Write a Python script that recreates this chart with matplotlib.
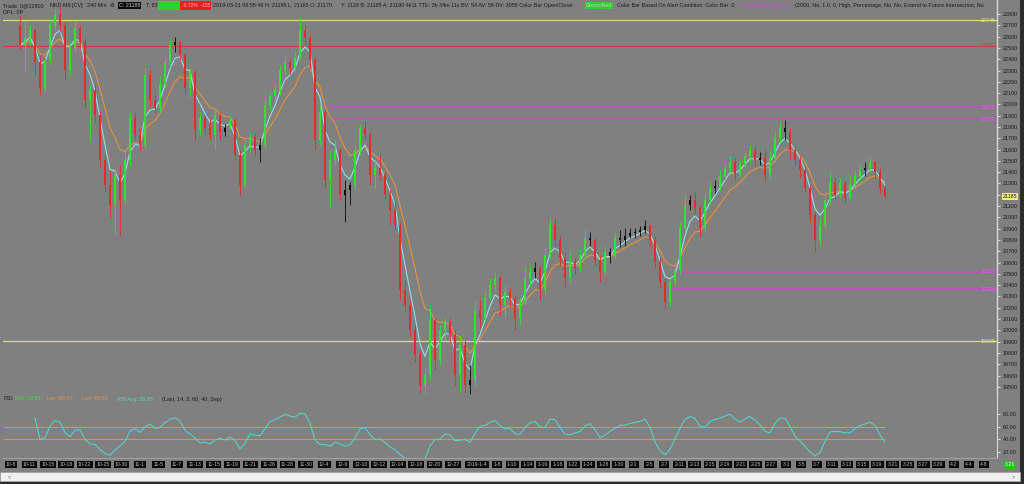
import numpy as np
import pandas as pd
import matplotlib
matplotlib.use("Agg")
import matplotlib.pyplot as plt
from matplotlib.patches import Rectangle
from matplotlib.transforms import blended_transform_factory

plt.rcParams["font.family"] = ["Liberation Sans", "DejaVu Sans"]

# ---- 240 min bars ----
opens = [
    22705, 22525, 22590, 22660, 22375, 22145, 22395, 22705, 22790, 22705,
    22305, 22500, 22675, 22550, 22040, 22130, 21905, 21510, 21285, 21110,
    21375, 21155, 21510, 21880, 21730, 21640, 22260, 22040, 21970, 22170,
    22375, 22525, 22550, 22435, 22145, 22285, 21775, 21880, 21790, 21730,
    21905, 21755, 21790, 21860, 21550, 21285, 21640, 21710, 21595, 21640,
    21995, 22075, 22130, 22305, 22375, 22320, 22410, 22660, 22590, 22395,
    21685, 21935, 21330, 21510, 21595, 21200, 21245, 21285, 21595, 21790,
    21730, 21375, 21435, 21375, 21200, 21065, 20935, 20360, 20225, 20005,
    19780, 19515, 19605, 20090, 19740, 20005, 20075, 19960, 19605, 19870,
    19515, 19560, 20180, 20110, 20285, 20400, 20465, 20225, 20340, 20285,
    20110, 20250, 20465, 20515, 20550, 20360, 20665, 20935, 20800, 20640,
    20465, 20605, 20550, 20665, 20820, 20800, 20625, 20515, 20695, 20660,
    20820, 20800, 20835, 20860, 20870, 20890, 20925, 20800, 20605, 20430,
    20250, 20430, 20535, 20905, 21110, 21155, 21085, 20905, 21155, 21260,
    21280, 21365, 21435, 21490, 21385, 21465, 21545, 21595, 21510, 21525,
    21375, 21525, 21705, 21790, 21755, 21595, 21510, 21420, 21260, 21020,
    20800, 20935, 21155, 21315, 21200, 21305, 21170, 21295, 21365, 21420,
    21435, 21490, 21400, 21260,
]
closes = [
    22525, 22590, 22660, 22375, 22145, 22395, 22705, 22790, 22705, 22305,
    22500, 22675, 22550, 22040, 22130, 21905, 21510, 21285, 21110, 21375,
    21155, 21510, 21880, 21730, 21640, 22260, 22040, 21970, 22170, 22375,
    22525, 22550, 22435, 22145, 22285, 21775, 21880, 21790, 21730, 21905,
    21755, 21790, 21860, 21550, 21285, 21640, 21710, 21595, 21640, 21995,
    22075, 22130, 22305, 22375, 22320, 22410, 22660, 22590, 22395, 21685,
    21935, 21330, 21510, 21595, 21200, 21245, 21285, 21595, 21790, 21730,
    21375, 21435, 21375, 21200, 21065, 20935, 20360, 20225, 20005, 19780,
    19515, 19605, 20090, 19740, 20005, 20075, 19960, 19605, 19870, 19515,
    19560, 20180, 20110, 20285, 20400, 20465, 20225, 20340, 20285, 20110,
    20250, 20465, 20515, 20550, 20360, 20665, 20935, 20800, 20640, 20465,
    20605, 20550, 20665, 20820, 20800, 20625, 20515, 20695, 20660, 20820,
    20800, 20835, 20860, 20870, 20890, 20925, 20800, 20605, 20430, 20250,
    20430, 20535, 20905, 21110, 21155, 21085, 20905, 21155, 21260, 21280,
    21365, 21435, 21490, 21385, 21465, 21545, 21595, 21510, 21525, 21375,
    21525, 21705, 21790, 21755, 21595, 21510, 21420, 21260, 21020, 20800,
    20935, 21155, 21315, 21200, 21305, 21170, 21295, 21365, 21420, 21435,
    21490, 21400, 21260, 21185,
]
highs = [
    22790, 22730, 22705, 22675, 22435, 22435, 22765, 22855, 22860, 22730,
    22550, 22730, 22705, 22590, 22170, 22170, 21935, 21550, 21400, 21435,
    21465, 21595, 21935, 21935, 21790, 22320, 22305, 22085, 22250, 22430,
    22570, 22595, 22570, 22465, 22320, 22305, 21935, 21905, 21870, 21950,
    21935, 21825, 21905, 21880, 21595, 21705, 21755, 21745, 21705, 22055,
    22110, 22170, 22350, 22435, 22410, 22465, 22775, 22705, 22615, 22410,
    21985, 21950, 21595, 21685, 21615, 21330, 21315, 21640, 21825, 21855,
    21755, 21510, 21550, 21400, 21245, 21155, 20960, 20445, 20270, 20050,
    19825, 19665, 20225, 20110, 20050, 20110, 20110, 20005, 19960, 19915,
    19695, 20250, 20270, 20340, 20465, 20515, 20490, 20395, 20375, 20315,
    20285, 20550, 20570, 20605, 20580, 20730, 20995, 20995, 20835, 20695,
    20695, 20640, 20710, 20890, 20870, 20820, 20665, 20745, 20730, 20870,
    20890, 20905, 20905, 20905, 20925, 20975, 20940, 20835, 20640, 20465,
    20465, 20580, 20960, 21190, 21200, 21225, 21110, 21225, 21315, 21330,
    21420, 21490, 21545, 21525, 21510, 21580, 21640, 21630, 21580, 21595,
    21595, 21755, 21845, 21860, 21790, 21640, 21550, 21455, 21285, 21045,
    20995, 21225, 21400, 21350, 21350, 21330, 21365, 21420, 21465, 21490,
    21535, 21510, 21435, 21285,
]
lows = [
    22480, 22285, 22525, 22260, 22085, 22110, 22350, 22660, 22640, 22215,
    22260, 22465, 22500, 21970, 21685, 21835, 21445, 21225, 20995, 20860,
    20845, 21110, 21465, 21685, 21595, 21615, 21975, 21925, 21935, 22145,
    22330, 22465, 22395, 22100, 22065, 21685, 21730, 21740, 21685, 21595,
    21685, 21720, 21775, 21510, 21200, 21260, 21580, 21550, 21490, 21615,
    21950, 22020, 22085, 22260, 22270, 22285, 22395, 22525, 22320, 21595,
    21640, 21260, 21090, 21465, 21155, 20960, 21110, 21245, 21550, 21685,
    21285, 21260, 21330, 21155, 20935, 20890, 20270, 20165, 19950, 19720,
    19445, 19445, 19560, 19650, 19695, 19915, 19895, 19515, 19455, 19445,
    19435, 19515, 20020, 20075, 20270, 20360, 20135, 20120, 20205, 20005,
    20050, 20225, 20400, 20465, 20270, 20315, 20640, 20730, 20580, 20375,
    20430, 20500, 20515, 20640, 20745, 20580, 20430, 20490, 20595, 20640,
    20740, 20745, 20820, 20820, 20835, 20860, 20740, 20550, 20375, 20200,
    20215, 20400, 20500, 20870, 21065, 21030, 20825, 20870, 21120, 21215,
    21245, 21330, 21400, 21330, 21350, 21435, 21490, 21455, 21465, 21315,
    21350, 21490, 21665, 21685, 21510, 21455, 21350, 21225, 20960, 20695,
    20755, 20905, 21110, 21155, 21170, 21130, 21155, 21260, 21330, 21365,
    21400, 21350, 21215, 21165,
]

# horizontal levels
yellow_levels = [22745, 19905]
red_level = 22517
magenta_levels = [21975, 21870, 20517, 20365]
magenta_start = [62, 62, 131, 130]
price_ticks = list(range(19500, 22801, 100))
last_price = 21185

date_labels_a = ["10-8", "10-11", "10-15", "10-18", "10-22", "10-25", "10-30", "11-1",
                 "11-5", "11-7", "11-13", "11-15", "11-19", "11-21", "11-26", "11-28",
                 "11-30", "12-4", "12-6", "12-10", "12-12", "12-14", "12-18", "12-20",
                 "12-27"]
date_label_new_year = "2019-1-4"
date_labels_b = ["1-8", "1-10", "1-14", "1-16", "1-18", "1-22", "1-24", "1-28", "1-30",
                 "2-1", "2-5", "2-7", "2-11", "2-13", "2-15", "2-19", "2-21", "2-25",
                 "2-27", "3-1", "3-5", "3-7", "3-11", "3-13", "3-15", "3-19", "3-21",
                 "3-25", "3-27", "3-29", "4-2", "4-4", "4-8"]

# ---- derived indicators ----
s = pd.Series(closes, dtype=float)
ema_fast = s.ewm(span=4, adjust=False).mean()
ema_slow = s.ewm(span=9, adjust=False).mean()
delta = s.diff()
gain = delta.clip(lower=0).ewm(alpha=1 / 5, adjust=False).mean()
loss = (-delta.clip(upper=0)).ewm(alpha=1 / 5, adjust=False).mean()
rsi = 100 - 100 / (1 + gain / loss)
rsi_avg = rsi.rolling(2, min_periods=1).mean()

n = len(closes)
idx = np.arange(n)
o = np.array(opens, float)
c = np.array(closes, float)
h = np.array(highs, float)
l = np.array(lows, float)

GRAY = "#808080"
W, H = 1024, 484


def fr(x0, y0, x1, y1):
    # pixel box (top-left origin) -> figure fraction rect
    return [x0 / W, 1 - y1 / H, (x1 - x0) / W, (y1 - y0) / H]


def fig_rect(x0, y0, x1, y1, z=-5, **kw):
    r = fr(x0, y0, x1, y1)
    fig.patches.append(Rectangle((r[0], r[1]), r[2], r[3], transform=fig.transFigure,
                                 zorder=z, **kw))


fig = plt.figure(figsize=(W / 100, H / 100), dpi=100, facecolor="#2c2c2c")
fig_rect(0, 0, 1020, 472, fc=GRAY, ec="none")
fig_rect(0, 472, 1020, 481, fc="#f0f0f0", ec="#b0b0b0", lw=0.5)
fig.text(8 / W, 1 - 476.5 / H, "<", fontsize=4, color="#606060", va="center")
fig.text(1012 / W, 1 - 476.5 / H, ">", fontsize=4, color="#606060", va="center")

XL = (-3.4, 195.4)

# ---- price panel ----
ax = fig.add_axes(fr(3, 0, 997, 395), facecolor=GRAY)
ax.set_xlim(*XL)
ax.set_ylim(19428, 22924)

for lv in yellow_levels:
    ax.axhline(lv, color="#dcdc78", lw=0.9, zorder=1)
ax.axhline(red_level, color="#d23c3c", lw=0.8, zorder=1)
for lv, st in zip(magenta_levels, magenta_start):
    ax.hlines(lv, st, XL[1], color="#c848cc", lw=1.1, zorder=1)

ax.plot(idx, ema_slow, color="#e8913a", lw=0.8, zorder=2)
ax.plot(idx, ema_fast, color="#8fe0ec", lw=0.8, zorder=3)

body = np.abs(c - o)
cols = np.where(body < 50, "#0c0c0c", np.where(c > o, "#2ee62e", "#e62a2a"))
ax.vlines(idx, l, h, colors=cols, lw=0.6, zorder=4)
ax.bar(idx, np.maximum(body, 10), bottom=np.minimum(o, c), width=0.55,
       color=cols, lw=0, zorder=5)

tr = blended_transform_factory(ax.transAxes, ax.transData)
lab = [(yellow_levels[0], "22745", "#e6e67c"), (red_level, "22517", "#e03a3a"),
       (magenta_levels[0], "21975", "#e060e8"), (magenta_levels[1], "21870", "#e060e8"),
       (magenta_levels[2], "20517", "#e060e8"), (magenta_levels[3], "20365", "#e060e8"),
       (yellow_levels[1], "19905", "#e6e67c")]
for v, t, col in lab:
    ax.text(0.999, v, t, transform=tr, ha="right", va="center", fontsize=3.9,
            color=col, zorder=6)

ax.yaxis.tick_right()
ax.set_yticks(price_ticks)
ax.set_yticklabels([str(p) for p in price_ticks])
ax.tick_params(axis="y", labelsize=3.9, length=2, pad=2, colors="#d8d8d8",
               labelcolor="#1c1c1c")
ax.set_xticks([])
for sp in ["top", "left", "bottom"]:
    ax.spines[sp].set_visible(False)
ax.spines["right"].set_color("#d8d8d8")
ax.spines["right"].set_linewidth(1.0)
ax.text(1.006, last_price, str(last_price), transform=tr, ha="left", va="center",
        fontsize=3.9, color="#111111", zorder=7, clip_on=False,
        bbox=dict(fc="#f2f27a", ec="none", pad=0.6))

# ---- RSI panel ----
rx = fig.add_axes(fr(3, 395, 997, 458), facecolor=GRAY)
rx.set_xlim(*XL)
rx.set_ylim(10.4, 111)
rx.hlines([60, 40], XL[0], n - 1, color="#e8913a", lw=0.8)
rx.plot(idx[3:], rsi_avg[3:], color="#56d2c8", lw=0.8)
rx.yaxis.tick_right()
rx.set_yticks([80, 60, 40, 20])
rx.set_yticklabels(["80.00", "60.00", "40.00", "20.00"])
rx.tick_params(axis="y", labelsize=3.9, length=2, pad=2, colors="#d8d8d8",
               labelcolor="#1c1c1c")
rx.set_xticks([])
for sp in ["top", "left"]:
    rx.spines[sp].set_visible(False)
rx.spines["right"].set_color("#d8d8d8")
rx.spines["bottom"].set_color("#a8a8a8")
rx.spines["bottom"].set_linewidth(0.6)

ry = 1 - 399 / H
for x0, t, col in [(4, "RSI:", "#1c1c1c"), (15, "RSI: 29.95", "#3cdc3c"),
                   (47, "Lev: 60.00", "#e8913a"), (82, "Lev: 40.00", "#e8913a"),
                   (117, "RSI Avg: 29.95", "#56d2c8"),
                   (162, "(Last, 14, 3, 60, 40, Sep)", "#1c1c1c")]:
    fig.text(x0 / W, ry, t, fontsize=3.9, color=col, va="center")

# ---- date strip ----
dx = fig.add_axes(fr(3, 458, 997, 472), facecolor=GRAY)
dx.set_xlim(*XL)
dx.set_ylim(0, 1)
dx.axis("off")
pos_a = np.linspace(-1.8, 86.6, len(date_labels_a))
pos_b = np.linspace(95.4, 192.8, len(date_labels_b))
for p, t in list(zip(pos_a, date_labels_a)) + [(91.4, date_label_new_year)] + list(zip(pos_b, date_labels_b)):
    dx.text(p, 0.55, t, ha="center", va="center", fontsize=3.7, color="#bcbcbc",
            bbox=dict(fc="#0a0a0a", ec="none", pad=0.9))
fig.text(1010 / W, 1 - 465 / H, "3-21", ha="center", va="center", fontsize=3.7,
         color="#e0ffe0", bbox=dict(fc="#22c422", ec="none", pad=0.9))

# ---- header ----
hy = 1 - 5.5 / H
DK = "#1a1a1a"
fig.text(3 / W, hy, "Trade: 0@22800", fontsize=3.9, color=DK, va="center")
fig.text(50 / W, hy, "NKD M9 [CV]", fontsize=3.9, color=DK, va="center")
fig.text(87 / W, hy, "240 Min", fontsize=3.9, color=DK, va="center")
fig.text(110 / W, hy, "#1", fontsize=3.9, color=DK, va="center")
fig.text(119 / W, hy, "C: 21185", fontsize=3.9, color="#d0d0d0", va="center",
         bbox=dict(fc="#0a0a0a", ec="none", pad=0.7))
fig.text(146 / W, hy, "T: 83", fontsize=3.9, color=DK, va="center")
fig_rect(158, 1.5, 180, 9.5, z=1, fc="#2ed22e", ec="none")
fig_rect(180, 1.5, 211, 9.5, z=1, fc="#e42020", ec="none")
fig.text(182 / W, hy, "-0.72%  -155", fontsize=3.6, color="#ffb4b4", va="center")
fig.text(213 / W, hy, "2019-03-21 08:55:49 H: 21195 L: 21165 O: 21170",
         fontsize=3.9, color=DK, va="center")
fig.text(341 / W, hy, "Y: 1128 B: 21185 A: 21190 4k11 TTE: 3h 34m 11s BV: 54 AV: 58 "
         "DV: 3058 Color Bar Open/Close:", fontsize=3.9, color=DK, va="center")
fig.text(586 / W, hy, "Green/Red", fontsize=3.9, color="#9cf09c", va="center",
         bbox=dict(fc="#38c838", ec="none", pad=0.5))
fig.text(617 / W, hy, "Color Bar Based On Alert Condition  Color Bar: 0",
         fontsize=3.9, color=DK, va="center")
fig.text(744 / W, hy, "Extended Lines: 0", fontsize=3.9, color="#e040e8", va="center")
fig.text(795 / W, hy, "(2000, No, 1.0, 0, High, Percentage, No, No, Extend to Future "
         "Intersection, No", fontsize=3.9, color=DK, va="center")
fig.text(3 / W, 1 - 13 / H, "DPL: 0P", fontsize=3.9, color=DK, va="center")

fig.savefig("out.png", dpi=100, facecolor=fig.get_facecolor())
